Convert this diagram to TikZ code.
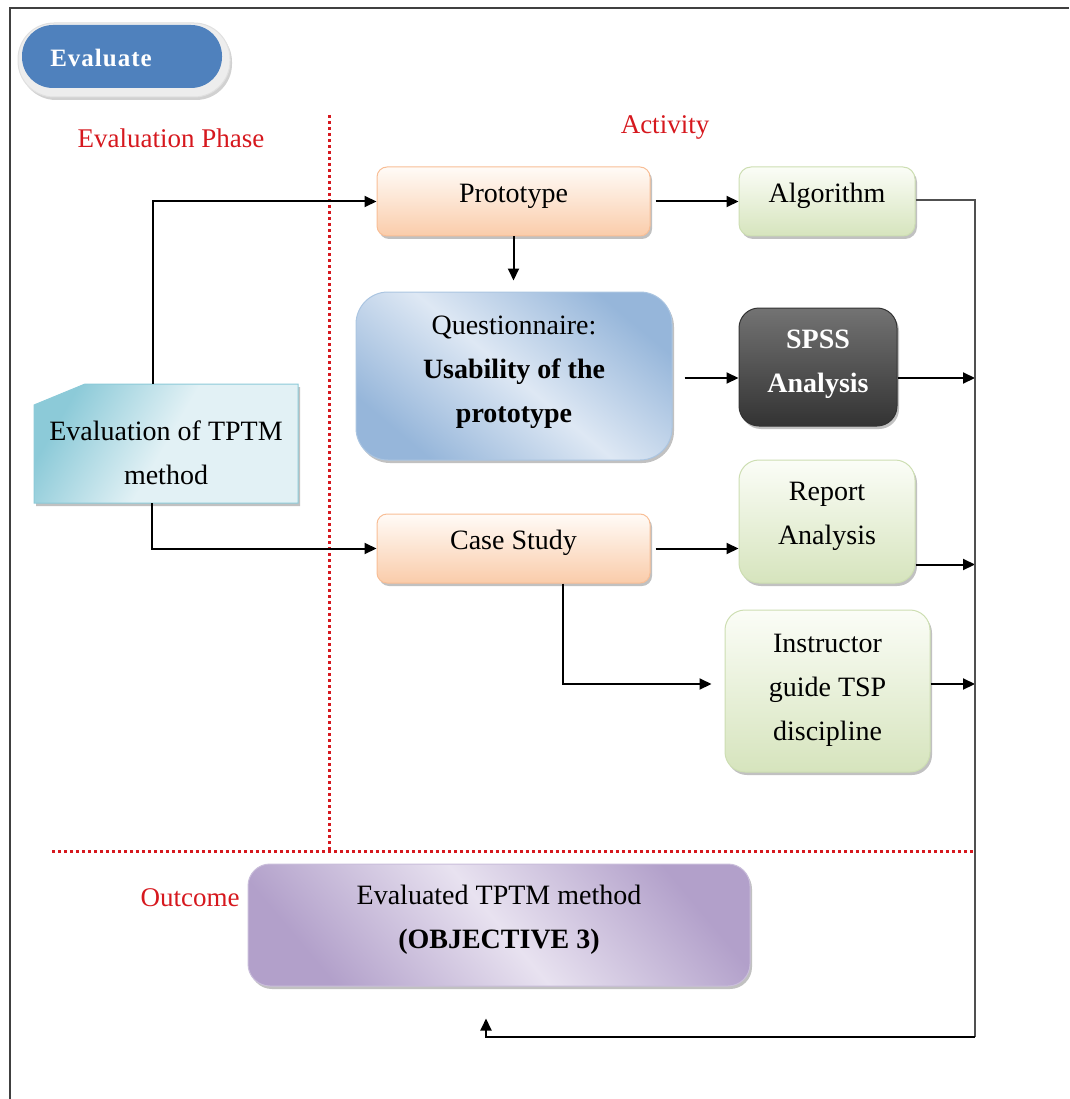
\documentclass[tikz,border=0pt]{standalone}
\usepackage{fontspec}
\setmainfont{Liberation Serif}
\usetikzlibrary{shadows,arrows.meta}

\definecolor{phasered}{RGB}{214,24,30}
\definecolor{pillblue}{RGB}{79,129,189}
\definecolor{orangetop}{RGB}{255,251,247}
\definecolor{orangebot}{RGB}{250,204,170}
\definecolor{orangeedge}{RGB}{248,190,150}
\definecolor{greentop}{RGB}{251,253,247}
\definecolor{greenbot}{RGB}{214,228,189}
\definecolor{greenedge}{RGB}{205,222,178}
\definecolor{bluedark}{RGB}{150,182,218}
\definecolor{bluelight}{RGB}{222,232,244}
\definecolor{cyandark}{RGB}{140,202,216}
\definecolor{cyanlight}{RGB}{226,241,245}
\definecolor{purpledark}{RGB}{178,160,202}
\definecolor{purplelight}{RGB}{232,226,240}
\definecolor{busgray}{RGB}{80,80,80}

\tikzset{
  boxtext/.style={font=\fontsize{28}{44}\selectfont, align=center, text=black},
  softshadow/.style={drop shadow={shadow xshift=2pt, shadow yshift=-3pt, opacity=0.35, fill=black!70}},
  orangebox/.style={boxtext, softshadow, draw=orangeedge, line width=1pt, rounded corners=10pt,
    top color=orangetop, bottom color=orangebot},
  greenbox/.style={boxtext, softshadow, draw=greenedge, line width=1pt, rounded corners=20pt,
    top color=greentop, bottom color=greenbot},
  arr/.style={line width=2pt, draw=black, -{Triangle[length=12pt,width=11pt]}},
  wire/.style={line width=2pt, draw=black},
  redlabel/.style={font=\fontsize{27}{30}\selectfont, text=phasered},
  reddots/.style={draw=phasered, line width=3pt, dash pattern=on 3pt off 3pt}
}

\begin{document}
\begin{tikzpicture}[x=1pt,y=-1pt]
\useasboundingbox (0,0) rectangle (1069,1099);

% outer frame
\draw[line width=2pt, draw=black!75] (10,1099) -- (10,8) -- (1069,8);

% title pill
\node[rounded corners=36pt, fill=black!7, draw=black!12, line width=1pt,
      minimum width=212pt, minimum height=74pt,
      drop shadow={shadow xshift=2pt, shadow yshift=-3pt, opacity=0.3, fill=black!60}]
  (pillrim) at (124,60) {};
\node[rounded corners=31pt, fill=pillblue, minimum width=200pt, minimum height=63pt,
      text=white, font=\fontsize{25}{28}\selectfont\bfseries\addfontfeatures{LetterSpace=4},
      text depth=6pt, text height=26pt]
  (pill) at (122,56.5) {\hspace*{-42pt}Evaluate};

% section labels
\node[redlabel] (phaselabel) at (171,138) {Evaluation Phase};
\node[redlabel] (activitylabel) at (665,127) {Activity};
\node[redlabel] (outcomelabel) at (190,898) {Outcome};

% dotted separators
\draw[reddots] (329,115) -- (329,850);
\draw[reddots] (52,851) -- (975,851);

% activity boxes
\node[orangebox, minimum width=273pt, minimum height=69pt, text height=20pt, text depth=18pt]
  (proto) at (513.5,201.5) {Prototype};
\node[greenbox, rounded corners=12pt, minimum width=176pt, minimum height=69pt,
      text height=20pt, text depth=18pt] (algo) at (827,201.5) {Algorithm};

\node[boxtext, softshadow, rounded corners=32pt, draw=bluedark!80, line width=1pt,
      left color=bluedark, right color=bluedark, middle color=bluelight, shading angle=-40,
      minimum width=316pt, minimum height=168pt, text depth=14pt] (quest) at (514,376)
  {Questionnaire:\\ \bfseries Usability of the\\ \bfseries prototype};

\node[boxtext, text=white, font=\fontsize{28}{44}\selectfont\bfseries, softshadow,
      rounded corners=20pt, draw=black!80, line width=1pt,
      top color=black!55, middle color=black, bottom color=black!80,
      minimum width=158pt, minimum height=118pt, text depth=12pt] (spss) at (818,367)
  {SPSS\\ Analysis};

% evaluation method box: rectangle with a cut top-left corner
\path[softshadow, draw=cyandark, line width=1pt,
      left color=cyandark, right color=cyanlight, middle color=cyanlight, shading angle=60]
  (34,405) -- (85,384) -- (298,384) -- (298,503) -- (34,503) -- cycle;
\node[boxtext, minimum width=264pt, minimum height=119pt, text height=83pt]
  (eval) at (166,443.5) {Evaluation of TPTM\\ method};

\node[orangebox, minimum width=273pt, minimum height=69pt, text height=20pt, text depth=18pt]
  (case) at (513.5,548.5) {Case Study};
\node[greenbox, minimum width=176pt, minimum height=123pt, text depth=16pt]
  (report) at (827,521.5) {Report\\ Analysis};
\node[greenbox, minimum width=205pt, minimum height=162pt, text depth=8pt]
  (instr) at (827.5,691) {Instructor\\ guide TSP\\ discipline};

% outcome box
\node[boxtext, softshadow, rounded corners=22pt, draw=purpledark!70, line width=1pt,
      left color=purpledark, right color=purpledark, middle color=purplelight, shading angle=-50,
      minimum width=502pt, minimum height=122pt, text depth=16pt] (outc) at (499,925)
  {Evaluated TPTM method\\ \bfseries (OBJECTIVE 3)};

% collecting bus on the right
\coordinate (bus) at (975,200);
\coordinate (busend) at (975,1037);

% connectors
\draw[arr] ([xshift=-13pt]eval.north) |- (proto.west);
\draw[arr] ([xshift=-14pt]eval.south) |- (case.west);
\draw[arr, shorten >=11pt] (proto.south) -- (proto.south |- quest.north);
\draw[arr, shorten <=5pt] (proto.east) -- (algo.west);
\draw[arr, shorten <=12pt] ([yshift=-2pt]quest.east) -- ([yshift=-2pt]quest.east -| spss.west);
\draw[arr] ([yshift=-11pt]spss.east) -- ([yshift=-11pt]spss.east -| bus);
\draw[arr, shorten <=5pt] (case.east) -- (case.east -| report.west);
\draw[arr] ([yshift=-43pt]report.east) -- ([yshift=-43pt]report.east -| bus);
\draw[arr, shorten >=13pt] ([xshift=49pt]case.south) |- ([yshift=7pt]instr.west);
\draw[arr] ([yshift=7pt]instr.east) -- ([yshift=7pt]instr.east -| bus);
\draw[wire, draw=busgray] ([yshift=1pt]algo.east) -| (busend);
\draw[arr, shorten >=32pt] (busend) -| ([xshift=-13pt]outc.south);
\end{tikzpicture}
\end{document}
